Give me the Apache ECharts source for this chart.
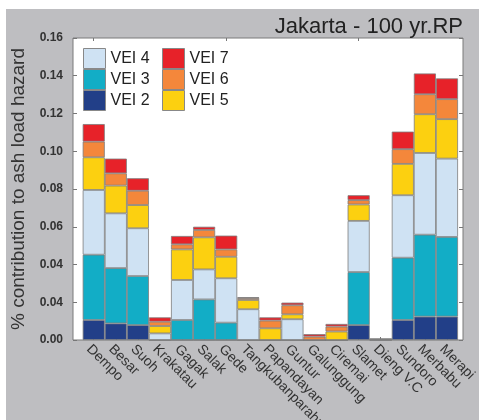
<!DOCTYPE html>
<html>
<head>
<meta charset="utf-8">
<script src="https://cdn.jsdelivr.net/npm/echarts@6/dist/echarts.min.js"></script>
<style>
  html, body { margin: 0; padding: 0; background: #ffffff; }
  #chart { position: absolute; left: 6px; top: 9px; width: 473px; height: 411px; background: #bebec1; }
</style>
</head>
<body>
<div id="chart"></div>
<script>
const categories = ['Dempo','Besar','Suoh','Krakatau','Gagak','Salak','Gede','Tangkubanparahu','Papandayan','Guntur','Galunggung','Ciremai','Slamet','Dieng V.C','Sundoro','Merbabu','Merapi'];
const vei2 = [0.0106,0.0088,0.0079,0,0,0,0,0,0,0,0,0,0.0079,0,0.0106,0.0124,0.0124];
const vei3 = [0.0346,0.0293,0.0260,0,0.0106,0.0215,0.0092,0,0,0,0,0,0.0281,0,0.0330,0.0434,0.0422];
const vei4 = [0.0343,0.0290,0.0253,0.0035,0.0212,0.0159,0.0235,0.0163,0,0.0110,0,0,0.0271,0.0004,0.0331,0.0433,0.0415];
const vei5 = [0.0173,0.0147,0.0123,0.0039,0.0162,0.0170,0.0114,0.0049,0.0062,0.0026,0,0.0045,0.0087,0,0.0166,0.0205,0.0209];
const vei6 = [0.0083,0.0065,0.0076,0.0023,0.0027,0.0039,0.0039,0.0010,0.0041,0.0048,0.0018,0.0026,0.0023,0,0.0078,0.0106,0.0106];
const vei7 = [0.0093,0.0078,0.0066,0.0023,0.0044,0.0017,0.0073,0.0005,0.0017,0.0014,0.0013,0.0014,0.0026,0,0.0093,0.0110,0.0110];
const yTickLabels = ['0.00','0.04','0.04','0.06','0.08','0.10','0.12','0.14','0.16'];

const FONT = "'Liberation Sans', Arial, sans-serif";
const colors = {
  'VEI 2': '#223f88',
  'VEI 3': '#12adc6',
  'VEI 4': '#cfe2f3',
  'VEI 5': '#fcd010',
  'VEI 6': '#f4873b',
  'VEI 7': '#e72229'
};
const seriesData = [['VEI 2', vei2], ['VEI 3', vei3], ['VEI 4', vei4], ['VEI 5', vei5], ['VEI 6', vei6], ['VEI 7', vei7]];

const chart = echarts.init(document.getElementById('chart'));
const option = {
  animation: false,
  title: {
    text: 'Jakarta - 100 yr.RP',
    right: 16, top: 7, padding: 0,
    textStyle: { fontFamily: FONT, fontSize: 22, fontWeight: 'normal', color: '#222' }
  },
  legend: [
    {
      data: ['VEI 4', 'VEI 3', 'VEI 2'], orient: 'vertical', left: 77, top: 39, padding: 0,
      itemWidth: 22, itemHeight: 20, itemGap: 0, icon: 'rect',
      itemStyle: { borderColor: '#888', borderWidth: 1 },
      textStyle: { fontFamily: FONT, fontSize: 16, color: '#222' }
    },
    {
      data: ['VEI 7', 'VEI 6', 'VEI 5'], orient: 'vertical', left: 156, top: 39, padding: 0,
      itemWidth: 22, itemHeight: 20, itemGap: 0, icon: 'rect',
      itemStyle: { borderColor: '#888', borderWidth: 1 },
      textStyle: { fontFamily: FONT, fontSize: 16, color: '#222' }
    }
  ],
  grid: [
    { left: 67, right: 16, top: 29, bottom: 80, show: true, backgroundColor: '#ffffff', borderColor: '#7a7a7a', borderWidth: 1, containLabel: false, outerBoundsMode: 'none' },
    { left: 76.7, right: 21, top: 29, bottom: 80, containLabel: false, outerBoundsMode: 'none' }
  ],
  xAxis: [
    { type: 'value', gridIndex: 0, show: false, min: 0, max: 1 },
    {
      type: 'category', gridIndex: 1, data: categories, position: 'bottom',
      axisLine: { show: false },
      axisTick: { show: true, inside: true, alignWithLabel: true, length: 3, lineStyle: { color: '#777' } },
      axisLabel: { interval: 0, rotate: -45, margin: 2, verticalAlign: 'top', fontFamily: FONT, fontSize: 14, color: '#333' }
    },
    {
      type: 'category', gridIndex: 1, data: categories, position: 'top',
      axisLine: { show: false },
      axisTick: { show: true, inside: true, alignWithLabel: true, length: 3, lineStyle: { color: '#777' } },
      axisLabel: { show: false }
    }
  ],
  yAxis: [
    {
      type: 'value', gridIndex: 0, min: 0, max: 0.16, interval: 0.02, position: 'left',
      name: '% contribution to ash load hazard', nameLocation: 'middle', nameGap: 42,
      nameTextStyle: { fontFamily: FONT, fontSize: 19, color: '#333' },
      axisLine: { show: false },
      axisTick: { show: true, inside: true, length: 4, lineStyle: { color: '#777' } },
      splitLine: { show: false },
      axisLabel: {
        margin: 10, fontFamily: FONT, fontSize: 12, fontWeight: 'bold', color: '#333',
        formatter: function (v) { return yTickLabels[Math.round(v / 0.02)]; }
      }
    },
    {
      type: 'value', gridIndex: 0, min: 0, max: 0.16, interval: 0.02, position: 'right',
      axisLine: { show: false },
      axisTick: { show: true, inside: true, length: 4, lineStyle: { color: '#777' } },
      splitLine: { show: false },
      axisLabel: { show: false }
    },
    {
      type: 'value', gridIndex: 1, min: 0, max: 0.16, interval: 0.02, show: false
    }
  ],
  series: seriesData.map(function (s) {
    return {
      name: s[0], type: 'bar', stack: 'total', xAxisIndex: 1, yAxisIndex: 2,
      barCategoryGap: '0%', data: s[1],
      itemStyle: { color: colors[s[0]], borderColor: '#7d7d7d', borderWidth: 0.8 }
    };
  })
};
chart.setOption(option);
</script>
</body>
</html>
